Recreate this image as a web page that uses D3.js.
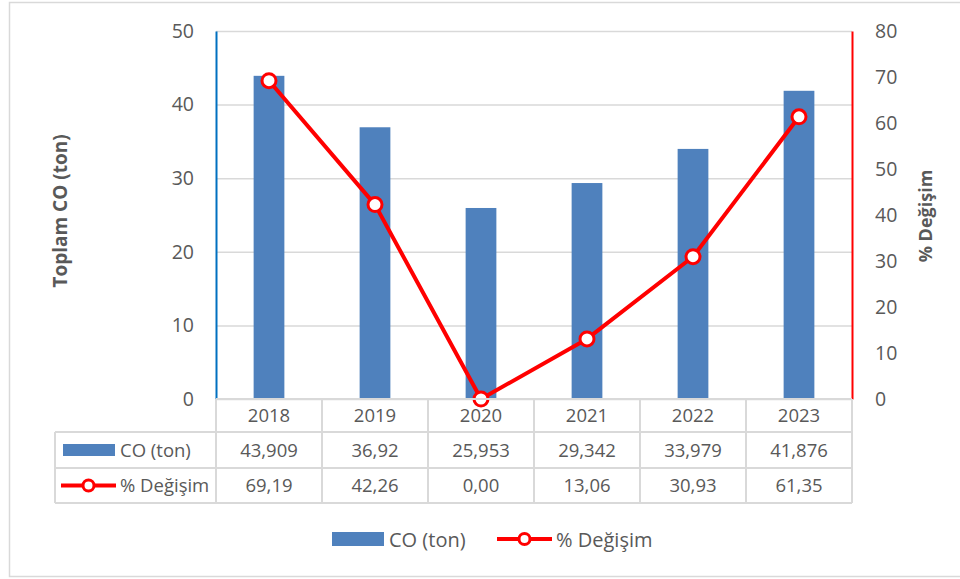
<!DOCTYPE html>
<html>
<head>
<meta charset="utf-8">
<script src="https://cdn.jsdelivr.net/npm/d3@7"></script>
<style>
  body { margin: 0; background: #fff; }
  svg text { font-family: "Open Sans", sans-serif; fill: #595959; }
</style>
</head>
<body>
<div id="chart"></div>
<script>
var years = ["2018", "2019", "2020", "2021", "2022", "2023"];
var coTon = [43.909, 36.92, 25.953, 29.342, 33.979, 41.876];
var coLabels = ["43,909", "36,92", "25,953", "29,342", "33,979", "41,876"];
var change = [69.19, 42.26, 0.00, 13.06, 30.93, 61.35];
var changeLabels = ["69,19", "42,26", "0,00", "13,06", "30,93", "61,35"];
var leftTicks = [0, 10, 20, 30, 40, 50];
var rightTicks = [0, 10, 20, 30, 40, 50, 60, 70, 80];

var svgWidth = 960;
var svgHeight = 579;

var plot = { left: 216, right: 852, top: 31, bottom: 399 };
var rowH = [33, 36, 35];
var tableLeft = 55;

var blue = "#4F81BD";
var red = "#FF0000";
var grid = "#D9D9D9";

var svg = d3.select("#chart")
  .append("svg")
  .attr("width", svgWidth)
  .attr("height", svgHeight);

// outer chart border
svg.append("rect")
  .attr("x", 9.5)
  .attr("y", 2.5)
  .attr("width", 952)
  .attr("height", 574)
  .attr("fill", "none")
  .attr("stroke", grid)
  .attr("stroke-width", 1.5);

var x = d3.scaleBand()
  .domain(years)
  .range([plot.left, plot.right]);

var yLeft = d3.scaleLinear()
  .domain([0, 50])
  .range([plot.bottom, plot.top]);

var yRight = d3.scaleLinear()
  .domain([0, 80])
  .range([plot.bottom, plot.top]);

// gridlines
svg.append("g")
  .attr("transform", `translate(${plot.left},0)`)
  .call(d3.axisLeft(yLeft).tickValues(leftTicks).tickSize(-(plot.right - plot.left)).tickFormat(""))
  .call(g => g.select(".domain").remove())
  .call(g => g.selectAll("line").attr("stroke", grid).attr("stroke-width", 1.5));

// bars
var barW = x.bandwidth() * 0.29;
svg.append("g").selectAll("rect")
  .data(coTon)
  .enter()
  .append("rect")
  .attr("x", (d, i) => x(years[i]) + x.bandwidth() / 2 - barW / 2)
  .attr("y", d => yLeft(d))
  .attr("width", barW)
  .attr("height", d => yLeft(0) - yLeft(d))
  .attr("fill", blue);

// left axis
var leftAxis = svg.append("g")
  .attr("transform", `translate(${plot.left},0)`)
  .call(d3.axisLeft(yLeft).tickValues(leftTicks).tickSize(0).tickPadding(22));
leftAxis.select(".domain").attr("stroke", "#0070C0").attr("stroke-width", 2);
leftAxis.selectAll("text").attr("font-size", 19.5).style("font-family", "'Open Sans', sans-serif").attr("fill", "#595959");

// right axis
var rightAxis = svg.append("g")
  .attr("transform", `translate(${plot.right},0)`)
  .call(d3.axisRight(yRight).tickValues(rightTicks).tickSize(0).tickPadding(23));
rightAxis.select(".domain").attr("stroke", red).attr("stroke-width", 2);
rightAxis.selectAll("text").attr("font-size", 19.5).style("font-family", "'Open Sans', sans-serif").attr("fill", "#595959");

// line + markers
var cx = (d, i) => x(years[i]) + x.bandwidth() / 2;
var line = d3.line()
  .x((d, i) => cx(d, i))
  .y(d => yRight(d));

svg.append("path")
  .datum(change)
  .attr("d", line)
  .attr("fill", "none")
  .attr("stroke", red)
  .attr("stroke-width", 4)
  .attr("stroke-linejoin", "round");

svg.append("g").selectAll("circle")
  .data(change)
  .enter()
  .append("circle")
  .attr("cx", (d, i) => cx(d, i))
  .attr("cy", d => yRight(d))
  .attr("r", 7)
  .attr("fill", "#fff")
  .attr("stroke", red)
  .attr("stroke-width", 3);

// axis titles
svg.append("text")
  .attr("transform", "translate(67,211) rotate(-90)")
  .attr("text-anchor", "middle")
  .attr("font-size", 19)
  .attr("font-weight", "bold")
  .text("Toplam CO (ton)");

svg.append("text")
  .attr("transform", "translate(932,216) rotate(-90)")
  .attr("text-anchor", "middle")
  .attr("font-size", 18)
  .attr("font-weight", "bold")
  .text("% Değişim");

// data table
var t = svg.append("g");
var r0 = plot.bottom, r1 = r0 + rowH[0], r2 = r1 + rowH[1], r3 = r2 + rowH[2];

function hline(x1, x2, yy) {
  t.append("line").attr("x1", x1).attr("x2", x2).attr("y1", yy).attr("y2", yy)
    .attr("stroke", grid).attr("stroke-width", 2);
}
function vline(xx, y1, y2) {
  t.append("line").attr("x1", xx).attr("x2", xx).attr("y1", y1).attr("y2", y2)
    .attr("stroke", grid).attr("stroke-width", 2);
}
hline(plot.left, plot.right, r0);
hline(tableLeft, plot.right, r1);
hline(tableLeft, plot.right, r2);
hline(tableLeft, plot.right, r3);
vline(tableLeft, r1, r3);
years.forEach(function(yr) { vline(x(yr), r0, r3); });
vline(plot.right, r0, r3);

t.selectAll(".yr").data(years).enter().append("text")
  .attr("x", d => x(d) + x.bandwidth() / 2)
  .attr("y", (r0 + r1) / 2 + 6.5)
  .attr("text-anchor", "middle")
  .attr("font-size", 18.5)
  .text(d => d);

t.selectAll(".co").data(coLabels).enter().append("text")
  .attr("x", (d, i) => cx(d, i))
  .attr("y", (r1 + r2) / 2 + 6.5)
  .attr("text-anchor", "middle")
  .attr("font-size", 18.5)
  .text(d => d);

t.selectAll(".ch").data(changeLabels).enter().append("text")
  .attr("x", (d, i) => cx(d, i))
  .attr("y", (r2 + r3) / 2 + 6.5)
  .attr("text-anchor", "middle")
  .attr("font-size", 18.5)
  .text(d => d);

// legend keys
function barKey(g, x0, yMid, w, h) {
  g.append("rect").attr("x", x0).attr("y", yMid - h / 2).attr("width", w).attr("height", h).attr("fill", blue);
}
function lineKey(g, x0, yMid, w) {
  g.append("line").attr("x1", x0).attr("x2", x0 + w).attr("y1", yMid).attr("y2", yMid)
    .attr("stroke", red).attr("stroke-width", 4);
  g.append("circle").attr("cx", x0 + w / 2).attr("cy", yMid).attr("r", 5.5)
    .attr("fill", "#fff").attr("stroke", red).attr("stroke-width", 3);
}

barKey(t, 63, (r1 + r2) / 2, 52, 12);
t.append("text").attr("x", 120).attr("y", (r1 + r2) / 2 + 6.5).attr("font-size", 18.5).text("CO (ton)");
lineKey(t, 61, (r2 + r3) / 2, 55);
t.append("text").attr("x", 120).attr("y", (r2 + r3) / 2 + 6.5).attr("font-size", 18.5).text("% Değişim");

// bottom legend
var lg = svg.append("g");
barKey(lg, 332, 539, 52, 14);
lg.append("text").attr("x", 389).attr("y", 546.5).attr("font-size", 20).text("CO (ton)");
lineKey(lg, 497, 539, 55);
lg.append("text").attr("x", 556).attr("y", 546.5).attr("font-size", 20).text("% Değişim");
</script>
</body>
</html>
